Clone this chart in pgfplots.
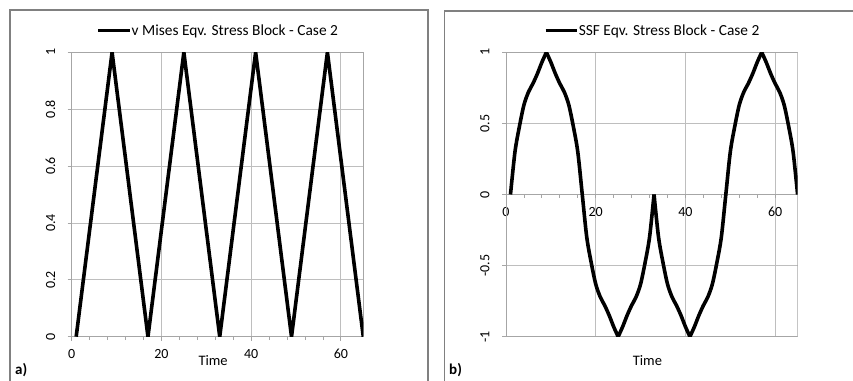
\documentclass[border=0pt]{standalone}
\usepackage{fontspec}
\setmainfont{Carlito}
\usepackage{pgfplots}
\pgfplotsset{compat=1.18}
\usepackage{pgfplotstable}
\definecolor{gridc}{HTML}{BEBEBE}
\definecolor{axc}{HTML}{A6A6A6}
\definecolor{framec}{HTML}{808080}

\pgfplotstableread{
x y
1 0
9 1
17 0
25 1
33 0
41 1
49 0
57 1
65 0
}\vmdata

\pgfplotstableread{
x y
1 0
2 0.30
3 0.48
4 0.63
5 0.72
6 0.78
7 0.85
8 0.93
9 1
10 0.93
11 0.85
12 0.78
13 0.72
14 0.63
15 0.48
16 0.30
17 0
18 -0.30
19 -0.48
20 -0.63
21 -0.72
22 -0.78
23 -0.85
24 -0.93
25 -1
26 -0.93
27 -0.85
28 -0.78
29 -0.72
30 -0.63
31 -0.48
32 -0.30
33 0
34 -0.30
35 -0.48
36 -0.63
37 -0.72
38 -0.78
39 -0.85
40 -0.93
41 -1
42 -0.93
43 -0.85
44 -0.78
45 -0.72
46 -0.63
47 -0.48
48 -0.30
49 0
50 0.30
51 0.48
52 0.63
53 0.72
54 0.78
55 0.85
56 0.93
57 1
58 0.93
59 0.85
60 0.78
61 0.72
62 0.63
63 0.48
64 0.30
65 0
}\ssfdata

\pgfplotsset{
  mystyle/.style={
    scale only axis, width=291.6bp, height=284.4bp,
    xmin=0, xmax=65,
    xtick={0,20,40,60}, minor x tick num=4,
    grid=major,
    major grid style={draw=gridc, line width=0.8bp},
    axis line style={draw=axc, line width=0.8bp},
    tick style={draw=axc, line width=0.8bp},
    tick align=outside, major tick length=4bp, minor tick length=3.5bp,
    /pgf/number format/assume math mode=true,
    /pgf/number format/fixed,
    tick label style={font=\fontsize{14bp}{16bp}\selectfont},
    yticklabel style={xshift=-9bp, rotate=90, anchor=south},
    xticklabel style={yshift=-5bp},
    xlabel={Time},
    xlabel style={font=\fontsize{14.5bp}{17bp}\selectfont, at={(axis description cs:0.485,-0.0854)}, anchor=center},
    legend style={at={(axis description cs:0.5,1.075)}, anchor=center, draw=none, fill=none,
      inner sep=0pt, outer sep=0pt, font=\fontsize{15.4bp}{18bp}\selectfont,
      nodes={inner sep=0pt}},
    legend image code/.code={\draw[black, line width=3bp] (0bp,0bp) -- (31.7bp,0bp);},
  },
  curve/.style={black, line width=3.6bp, line join=round, mark=none},
}

\begin{document}
\begin{tikzpicture}
\useasboundingbox (0,0) rectangle (853bp,381bp);
\draw[framec, line width=1.3bp] (10bp,-2bp) -- (10bp,371bp) -- (428bp,371bp) -- (428bp,-2bp);
\draw[framec, line width=1.3bp] (444.3bp,-2bp) -- (444.3bp,370bp) -- (856bp,370bp);
\node[anchor=base west, font=\bfseries\fontsize{15bp}{18bp}\selectfont, inner sep=0pt] at (15bp,6.5bp) {a)};
\node[anchor=base west, font=\bfseries\fontsize{15bp}{18bp}\selectfont, inner sep=0pt] at (449bp,6.5bp) {b)};

\begin{axis}[mystyle, at={(71.7bp,44.3bp)}, anchor=south west,
  ymin=0, ymax=1, ytick={0,0.2,0.4,0.6,0.8,1},
  tick pos=left]
\addplot[curve] table[x=x, y=y] {\vmdata};
\addlegendentry{v Mises Eqv. Stress Block - Case 2}
\end{axis}

\begin{axis}[mystyle, at={(506bp,44.3bp)}, anchor=south west,
  ymin=-1, ymax=1, ytick={-1,-0.5,0,0.5,1},
  axis x line*=middle, axis y line*=left,
  hide obscured x ticks=false, hide obscured y ticks=false]
\draw[axc, line width=0.8bp] (rel axis cs:0,0) rectangle (rel axis cs:1,1);
\addplot[curve, smooth, restrict x to domain=1:9] table[x=x, y=y] {\ssfdata};
\addlegendentry{SSF Eqv. Stress Block - Case 2}
\addplot[curve, smooth, forget plot, restrict x to domain=9:25] table[x=x, y=y] {\ssfdata};
\addplot[curve, smooth, forget plot, restrict x to domain=25:33] table[x=x, y=y] {\ssfdata};
\addplot[curve, smooth, forget plot, restrict x to domain=33:41] table[x=x, y=y] {\ssfdata};
\addplot[curve, smooth, forget plot, restrict x to domain=41:57] table[x=x, y=y] {\ssfdata};
\addplot[curve, smooth, forget plot, restrict x to domain=57:65] table[x=x, y=y] {\ssfdata};
\end{axis}
\end{tikzpicture}
\end{document}
